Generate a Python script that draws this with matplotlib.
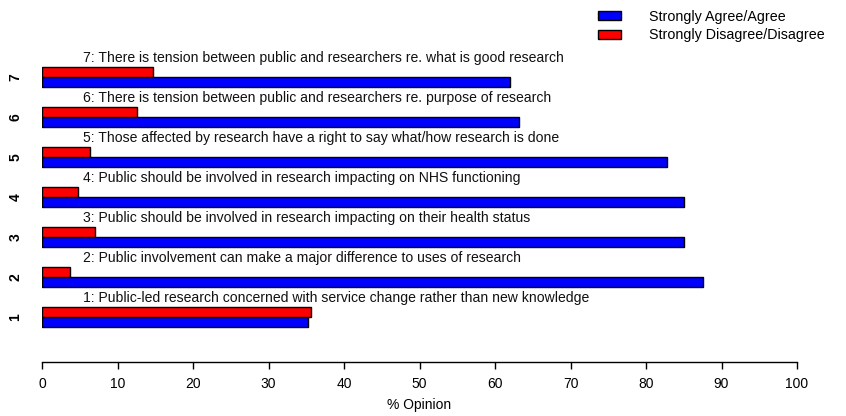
import matplotlib
matplotlib.use("Agg")
import matplotlib.pyplot as plt
import numpy as np

plt.rcParams['font.family'] = ['Liberation Sans', 'DejaVu Sans']

items = ["1", "2", "3", "4", "5", "6", "7"]
statements = [
    "1: Public-led research concerned with service change rather than new knowledge",
    "2: Public involvement can make a major difference to uses of research",
    "3: Public should be involved in research impacting on their health status",
    "4: Public should be involved in research impacting on NHS functioning",
    "5: Those affected by research have a right to say what/how research is done",
    "6: There is tension between public and researchers re. purpose of research",
    "7: There is tension between public and researchers re. what is good research",
]
agree = [35.2, 87.5, 85.0, 85.0, 82.8, 63.2, 62.0]
disagree = [35.6, 3.7, 7.0, 4.8, 6.4, 12.6, 14.7]
series_names = ["Strongly Agree/Agree", "Strongly Disagree/Disagree"]

fig = plt.figure(figsize=(8.46, 4.16), dpi=100)
ax = fig.add_axes([42/846, (416-362)/416, 755/846, (362-20)/416])

y = np.arange(1, len(items) + 1)
h = 0.25
b1 = ax.barh(y - h/2, agree, height=h, color="#0000ff", edgecolor="black", linewidth=1.0,
             label=series_names[0])
b2 = ax.barh(y + h/2, disagree, height=h, color="#ff0000", edgecolor="black", linewidth=1.0,
             label=series_names[1])

for yi, s in zip(y, statements):
    ax.text(5.4, yi + 0.475, s, ha="left", va="center", fontsize=10.1, color="#111111")

ax.set_xlim(0, 100)
ax.set_ylim(-0.125, 8.425)
ax.set_xticks(np.arange(0, 101, 10))
ax.set_yticks(y)
ax.set_yticklabels(items, rotation=90, va="center", fontsize=10, fontweight="bold")
ax.tick_params(axis="y", length=0, pad=14)
ax.tick_params(axis="x", length=5, width=1, direction="out", labelsize=10, pad=6)
for s in ["top", "right", "left"]:
    ax.spines[s].set_visible(False)
ax.spines["bottom"].set_bounds(0, 100)
ax.spines["bottom"].set_linewidth(1)
ax.set_xlabel("% Opinion", fontsize=10, labelpad=5)

leg = fig.legend(handles=[b1, b2], loc="upper left", bbox_to_anchor=(585/846, 1 + 3/416),
                 frameon=False, fontsize=10.3, handlelength=1.6, handleheight=0.6,
                 handletextpad=2.0, labelspacing=0.3)

fig.savefig("out.png", dpi=100)
